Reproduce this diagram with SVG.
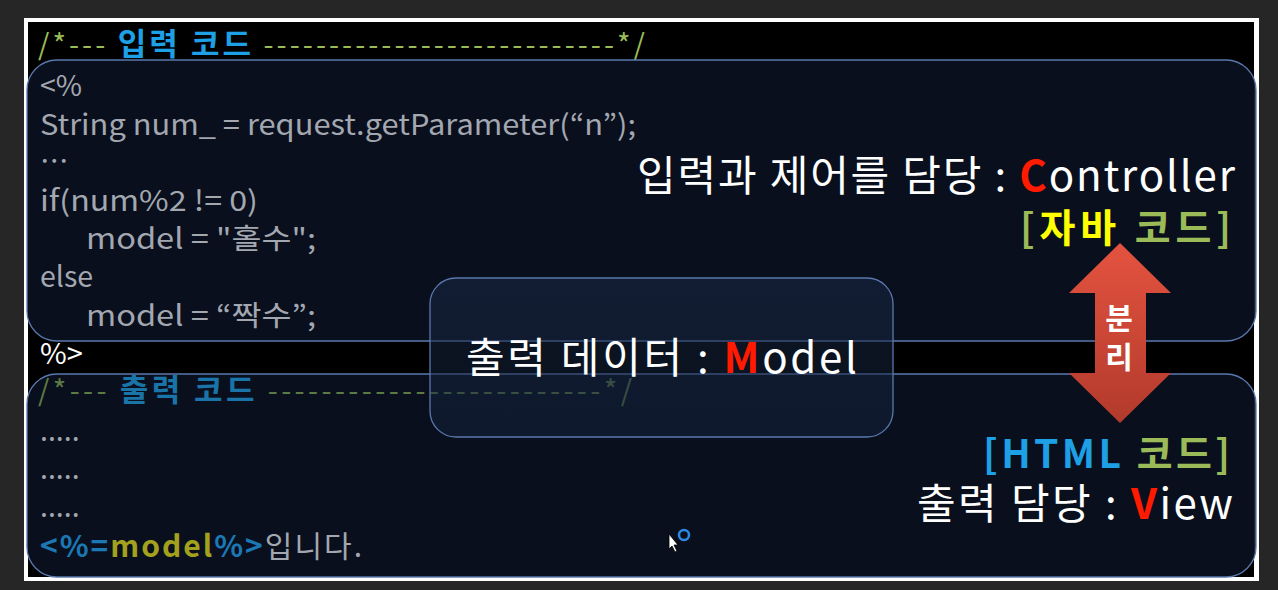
<svg xmlns="http://www.w3.org/2000/svg" width="1278" height="590" viewBox="0 0 1278 590">
<defs>
<style>
text{font-family:"Noto Sans CJK KR","Noto Sans",sans-serif;}
.code{font-size:28.5px;fill:#a3a7b0;}
.big{font-size:42px;fill:#ffffff;}
.hdr{font-size:29px;}
.b{font-weight:bold;}
.panel{fill:#0a1020;fill-opacity:0.92;stroke:#5a78ad;stroke-width:1.3;}
</style>
<linearGradient id="arrowGrad" x1="0" y1="0" x2="0" y2="1">
<stop offset="0" stop-color="#e4533f"/>
<stop offset="1" stop-color="#b23a2c"/>
</linearGradient>
<linearGradient id="midGrad" x1="0" y1="0" x2="0" y2="1">
<stop offset="0" stop-color="#1a2a48"/>
<stop offset="1" stop-color="#14223c"/>
</linearGradient>
</defs>
<rect x="0" y="0" width="1278" height="590" fill="#262626"/>
<rect x="24" y="18" width="1235" height="563" fill="#ffffff"/>
<rect x="28" y="22" width="1226" height="555" fill="#000000"/>

<g id="input-header">
<text x="38" y="55" class="hdr" fill="#9bbb59" textLength="607" lengthAdjust="spacing">/*--- <tspan fill="#1ea0e6" class="b" font-size="31">입력 코드</tspan> ---------------------------*/</text>
</g>

<g id="controller-panel">
<rect x="27" y="60" width="1229" height="281" rx="30" class="panel"/>
<text x="40" y="96" class="code">&lt;%</text>
<text x="40" y="135" class="code" textLength="596" lengthAdjust="spacingAndGlyphs">String num_ = request.getParameter(“n”);</text>
<text x="40" y="172" class="code">…</text>
<text x="40" y="211" class="code" textLength="218" lengthAdjust="spacingAndGlyphs">if(num%2 != 0)</text>
<text x="86" y="249" class="code" textLength="230" lengthAdjust="spacingAndGlyphs">model = "홀수";</text>
<text x="40" y="287" class="code">else</text>
<text x="86" y="326" class="code" textLength="230" lengthAdjust="spacingAndGlyphs">model = “짝수”;</text>
<text x="1235" y="191" class="big" text-anchor="end" textLength="598" lengthAdjust="spacing">입력과 제어를 담당 : <tspan fill="#ff1a00" class="b">C</tspan>ontroller</text>
<text x="1231" y="242" font-size="39" class="b" text-anchor="end" fill="#9bbb59" textLength="211" lengthAdjust="spacing">[<tspan fill="#ffff00">자바</tspan> 코드]</text>
</g>

<text x="40" y="364" font-size="29" fill="#ffffff">%&gt;</text>

<g id="view-panel">
<rect x="27" y="374" width="1229" height="203" rx="30" class="panel"/>
<text x="38" y="401" class="hdr" fill="#5c7a44" textLength="594" lengthAdjust="spacing">/*--- <tspan fill="#1a74a8" class="b" font-size="31">출력 코드</tspan> -------------------------*/</text>
<text x="40" y="441" class="code">.....</text>
<text x="40" y="479" class="code">.....</text>
<text x="40" y="517" class="code">.....</text>
<text x="40" y="557" font-size="30" textLength="322" lengthAdjust="spacing"><tspan class="b" fill="#1b78b4">&lt;%=</tspan><tspan class="b" fill="#a3a11e">model</tspan><tspan class="b" fill="#1b78b4">%&gt;</tspan><tspan fill="#a3a7b0">입니다.</tspan></text>
<text x="1230" y="468" font-size="39" class="b" text-anchor="end" fill="#9bbb59" textLength="247" lengthAdjust="spacing"><tspan fill="#1ea0e6">[HTML</tspan> 코드]</text>
<text x="1233" y="519" class="big" text-anchor="end" textLength="316" lengthAdjust="spacing">출력 담당 : <tspan fill="#ff1a00" class="b">V</tspan>iew</text>
</g>

<g id="model-box">
<rect x="430" y="278" width="463" height="159" rx="26" fill="url(#midGrad)" fill-opacity="0.5" stroke="#5a78ad" stroke-width="1.3"/>
<text x="466" y="373" class="big" textLength="391" lengthAdjust="spacing">출력 데이터 : <tspan fill="#ff1a00" class="b">M</tspan>odel</text>
</g>

<g id="connectors">
<g id="separation-arrow">
<polygon points="1120,243 1171,293 1146,293 1146,373 1171,373 1120,423 1069,373 1095,373 1095,293 1069,293" fill="url(#arrowGrad)"/>
<text x="1119" y="329" font-size="30" class="b" fill="#ffffff" text-anchor="middle">분</text>
<text x="1119" y="368" font-size="30" class="b" fill="#ffffff" text-anchor="middle">리</text>
</g>
</g>

<circle cx="684" cy="535" r="5" fill="none" stroke="#2a8ae6" stroke-width="2.5"/>
<polygon points="669,534 669,549 672,546 675,552 677,551 674,545 678,545" fill="#ffffff" stroke="#000000" stroke-width="0.8"/>
</svg>
